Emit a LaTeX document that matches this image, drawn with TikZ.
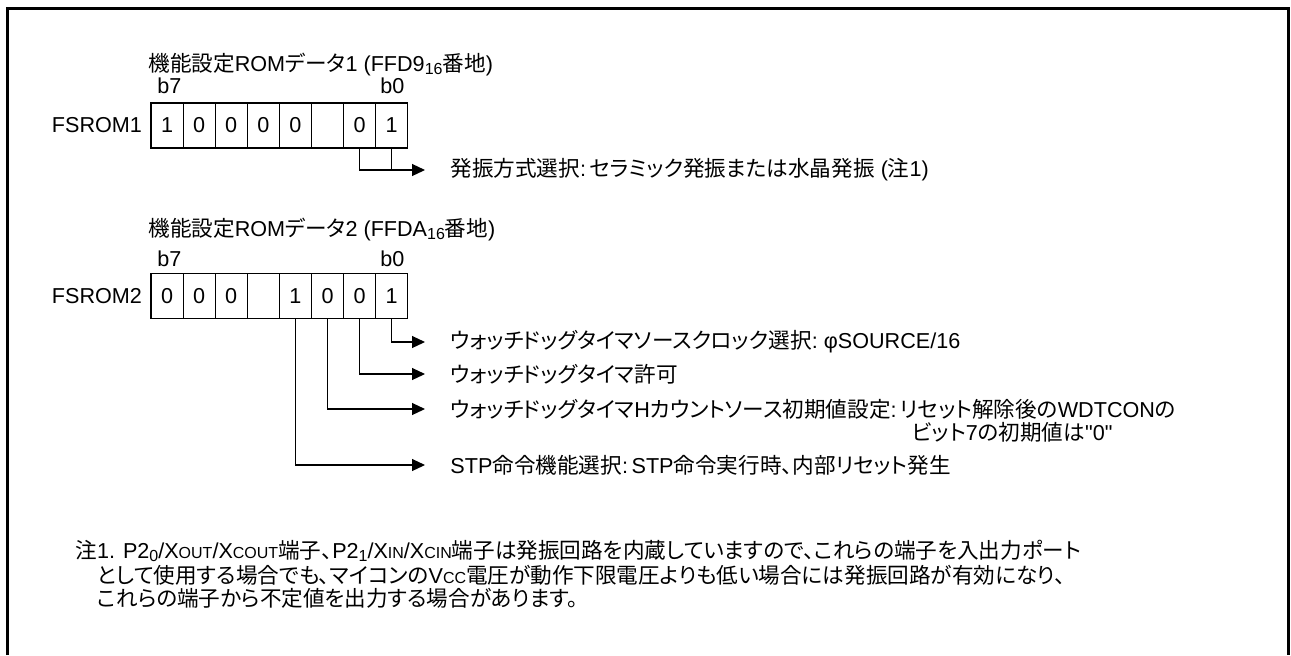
\documentclass[tikz,border=0pt]{standalone}
\usepackage{fontspec}
\setmainfont[Ligatures=TeXOff]{Liberation Sans}
\newfontfamily\jp[RawFeature=+palt]{Noto Sans CJK JP}
\usetikzlibrary{arrows.meta, positioning}
\newcommand{\lowsub}[1]{\raisebox{-0.25ex}{\footnotesize #1}}
\newcommand{\smallsub}[1]{{\footnotesize #1}}

\tikzset{
  bit/.style = {draw, line width=0.6pt, minimum width=16.05pt, minimum height=22.5pt, inner sep=0pt},
  lbl/.style = {inner sep=0pt, anchor=west},
  link/.style = {line width=0.6pt, -{Triangle[length=6.5pt, width=6pt]}, shorten >=12.5pt},
}

\begin{document}
\begin{tikzpicture}[x=0.5pt, y=-0.5pt, font=\fontsize{10.8}{13}\selectfont]
    \useasboundingbox (0,0) rectangle (1291,655);
    \draw [line width=1.5pt] (7,655) -- (7,8) -- (1288,8) -- (1288,655);

    % FSROM1
    \node (title1) [lbl] at (148,65) {{\jp 機能設定}ROM{\jp データ}1 (FFD9\lowsub{16}{\jp 番地})};
    \foreach \v [count=\i from 0] in {1,0,0,0,0,{},0,1}
        \node (a\i) [bit] at (167.05+32.1*\i,125.5) {\v};
    \node (hi1) [lbl] at (157,86) {b7};
    \node (lo1) [lbl] at (380,86) {b0};
    \node (reg1) [left=4pt of a0, inner sep=0pt] {FSROM1};

    \node (osc) [lbl] at (450,170) {{\jp 発振方式選択}:\,{\jp セラミック発振または水晶発振} ({\jp 注}1)};
    \draw [link] (a6.south) |- (osc.west);
    \draw [line width=0.6pt] (a7.south) -- (a7.south |- osc.west);

    % FSROM2
    \node (title2) [lbl] at (148,230) {{\jp 機能設定}ROM{\jp データ}2 (FFDA\lowsub{16}{\jp 番地})};
    \foreach \v [count=\i from 0] in {0,0,0,{},1,0,0,1}
        \node (c\i) [bit] at (167.05+32.1*\i,296) {\v};
    \node (hi2) [lbl] at (157,259) {b7};
    \node (lo2) [lbl] at (380,259) {b0};
    \node (reg2) [left=4pt of c0, inner sep=0pt] {FSROM2};

    \node (wd1) [lbl] at (450,342) {{\jp ウォッチドッグタイマソースクロック選択}:\ φSOURCE/16};
    \node (wd2) [lbl] at (450,374) {{\jp ウォッチドッグタイマ許可}};
    \node (wd3) [lbl] at (450,409) {{\jp ウォッチドッグタイマ}H{\jp カウントソース初期値設定}:\,{\jp リセット解除後の}WDTCON{\jp の}};
    \node (wd3b) [lbl] at (912,432) {{\jp ビット}7{\jp の初期値は}"0"};
    \node (stp) [lbl] at (450,465) {STP{\jp 命令機能選択}:\,STP{\jp 命令実行時、内部リセット発生}};

    \draw [link] (c7.south) |- (wd1.west);
    \draw [link] (c6.south) |- (wd2.west);
    \draw [link] (c5.south) |- (wd3.west);
    \draw [link] (c4.south) |- (stp.west);

    % note
    \node (note1) [lbl] at (75,551) {{\jp 注}1. P2\lowsub{0}/X\smallsub{OUT}/X\smallsub{COUT}{\jp 端子、}P2\lowsub{1}/X\smallsub{IN}/X\smallsub{CIN}{\jp 端子は発振回路を内蔵していますので、これらの端子を入出力ポート}};
    \node (note2) [lbl] at (97,575) {{\jp として使用する場合でも、マイコンの}V\smallsub{CC}{\jp 電圧が動作下限電圧よりも低い場合には発振回路が有効になり、}};
    \node (note3) [lbl] at (97,598) {{\jp これらの端子から不定値を出力する場合があります。}};
\end{tikzpicture}
\end{document}
